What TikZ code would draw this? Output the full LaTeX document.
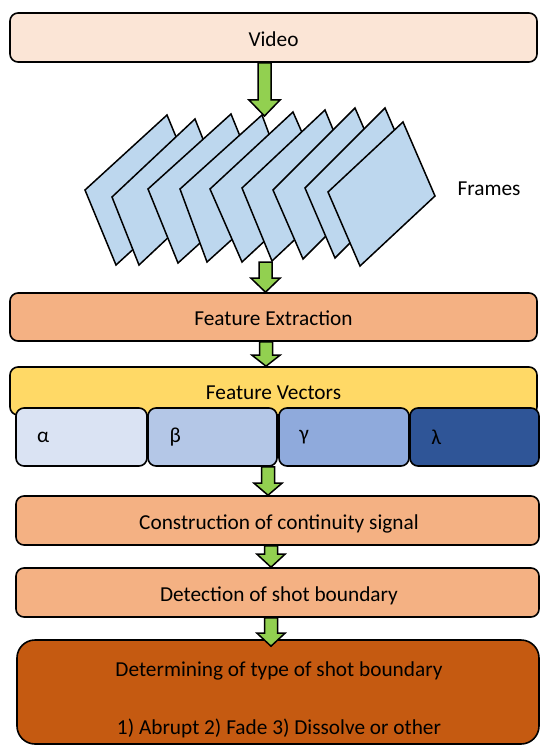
\documentclass[tikz,border=0pt]{standalone}
\usepackage{fontspec}
\setmainfont{Carlito}
\usetikzlibrary{calc}

\definecolor{videofill}{HTML}{FBE5D6}
\definecolor{stepfill}{HTML}{F4B183}
\definecolor{vecfill}{HTML}{FFD966}
\definecolor{alphafill}{HTML}{DAE3F3}
\definecolor{betafill}{HTML}{B4C7E7}
\definecolor{gammafill}{HTML}{8FAADC}
\definecolor{lambdafill}{HTML}{2F5597}
\definecolor{typefill}{HTML}{C55A11}
\definecolor{framefill}{HTML}{BDD7EE}
\definecolor{arrowfill}{HTML}{92D050}

% block arrow: centre x, start point, end point, head length, head half-width
\newcommand\stagearrow[5]{%
  \draw[blockarrow] let \p1=(#2), \p2=(#3) in
    ({#1pt-6.5pt},\y1) -- ({#1pt+6.5pt},\y1) -- ({#1pt+6.5pt},{\y2+#4pt})
    -- ({#1pt+#5pt},{\y2+#4pt}) -- ({#1pt},\y2) -- ({#1pt-#5pt},{\y2+#4pt})
    -- ({#1pt-6.5pt},{\y2+#4pt}) -- cycle;}

% one video frame: left, top and bottom corners
\newcommand\videoframe[3]{%
  \draw[framebox] (#1) -- (#2) -- ($(#2)+(#3)-(#1)$) -- (#3) -- cycle;}

\begin{document}
\begin{tikzpicture}[x=1pt,y=-1pt,
  font=\fontsize{21.3}{25.5}\selectfont,
  stagebox/.style={draw=black, line width=1.6pt, rounded corners=8pt, inner sep=0pt},
  vecbox/.style={stagebox, minimum width=129pt, minimum height=58pt},
  caption/.style={inner sep=0pt},
  blockarrow/.style={draw=black, fill=arrowfill, line width=1.5pt, line join=miter},
  framebox/.style={draw=black, fill=framefill, line width=1.5pt, line join=miter}]
\useasboundingbox (0,0) rectangle (540,746);

% input
\node[stagebox, fill=videofill, minimum width=527pt, minimum height=49pt] (video) at (273.5,37.5) {};
\node[caption] (videotxt) at (273.5,39) {Video};

% stack of frames, back to front
\videoframe{85,190}{167,115}{116,265}
\videoframe{112,197}{195,119}{139,265}
\videoframe{148,189}{231,114}{178,263}
\videoframe{180,189}{262,115}{207,262}
\videoframe{210,189}{293,112}{242,262}
\videoframe{242,188}{325,110}{272,261}
\videoframe{273,190}{355,108}{303,259}
\videoframe{305,188}{385,108}{335,258}
\videoframe{328,192}{403,122}{360,266}
\node[caption] (framestxt) at (489,188.5) {Frames};
\coordinate (framesin) at (264.5,116);
\coordinate (framesout) at (265.5,262);

% processing stages
\node[stagebox, fill=stepfill, minimum width=527pt, minimum height=48pt] (fe) at (273.5,317) {};
\node[caption] (fetxt) at (273.5,318) {Feature Extraction};
\node[stagebox, fill=vecfill, minimum width=527pt, minimum height=48pt] (fv) at (273.5,391) {};
\node[caption] (fvtxt) at (273.5,392.5) {Feature Vectors};

\node[vecbox, fill=alphafill, minimum width=131pt] (alpha) at (81.5,437) {};
\node[vecbox, fill=betafill] (beta) at (212.5,437) {};
\node[vecbox, fill=gammafill, minimum width=130pt] (gamma) at (344,437) {};
\node[vecbox, fill=lambdafill] (lambda) at (474.5,437) {};
\node[caption] (la) at ([xshift=28pt]alpha.west) {α};
\node[caption] (lb) at ([xshift=28pt]beta.west) {β};
\node[caption] (lg) at ([xshift=26pt]gamma.west) {γ};
\node[caption] (ll) at ([xshift=27pt]lambda.west) {λ};

\node[stagebox, fill=stepfill, minimum width=523pt, minimum height=49pt] (ccs) at (277.5,520.5) {};
\node[caption] (ccstxt) at (279,523.5) {Construction of continuity signal};
\node[stagebox, fill=stepfill, minimum width=523pt, minimum height=49pt] (dsb) at (277.5,592.5) {};
\node[caption] (dsbtxt) at (279,596) {Detection of shot boundary};
\node[stagebox, fill=typefill, rounded corners=18pt, minimum width=522pt, minimum height=104pt] (final) at (278,692) {};
\node[caption] (fintitle) at (279,670.5) {Determining of type of shot boundary};
\node[caption] (finlist) at (279,728) {1) Abrupt 2) Fade 3) Dissolve or other};
\coordinate (finin) at ($(final.north)+(0,7)$);

% connectors
\stagearrow{264.5}{video.south}{framesin}{16}{15.5}
\stagearrow{265.5}{framesout}{fe.north}{14}{14.5}
\stagearrow{266}{fe.south}{fv.north}{11}{14}
\stagearrow{268}{beta.south}{ccs.north}{12}{14}
\stagearrow{271}{ccs.south}{dsb.north}{13}{14}
\stagearrow{271}{dsb.south}{finin}{13}{14}
\end{tikzpicture}
\end{document}
